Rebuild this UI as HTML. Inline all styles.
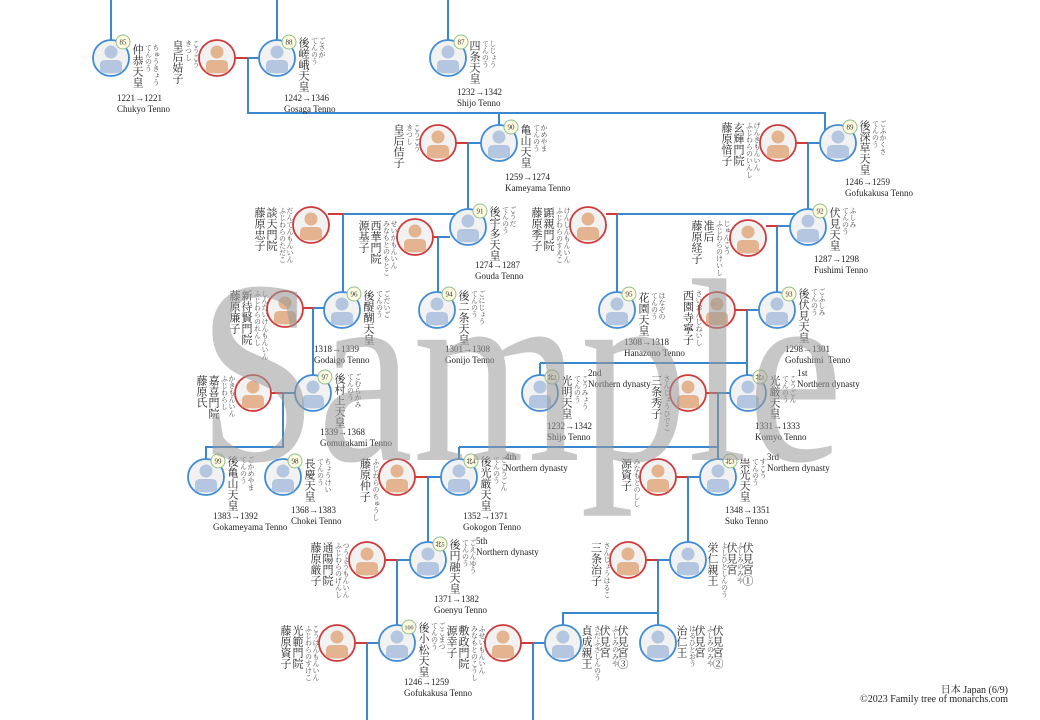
<!DOCTYPE html>
<html><head><meta charset="utf-8">
<style>
html,body{margin:0;padding:0;background:#fff}
#w{position:relative;width:1040px;height:720px;overflow:hidden;background:#fff;font-family:"Liberation Serif","Noto Serif CJK SC",serif;color:#222}
svg{position:absolute;left:0;top:0}
.m,.fe{position:absolute;display:flex;flex-direction:row;align-items:flex-start}
.fe{transform:translateX(-100%)}
.n{writing-mode:vertical-rl;font-size:11px;line-height:12px;letter-spacing:0;color:#222}
.f{writing-mode:vertical-rl;font-size:7px;line-height:7.5px;letter-spacing:0;color:#444;margin-left:1px}
.d{position:absolute;font-size:9px;line-height:11px;white-space:nowrap;color:#222}
.x{position:absolute;font-size:9px;line-height:11px;white-space:nowrap;color:#222}
.c{position:absolute;writing-mode:vertical-rl;white-space:nowrap}
.ft{position:absolute;right:32px;font-size:10px;white-space:nowrap;text-align:right}
</style></head><body><div id="w">
<svg width="1040" height="720" viewBox="0 0 1040 720">
<defs>
<g id="mm"><circle r="18" fill="#f2f2f2" stroke="#3f8bd6" stroke-width="1.8"/><circle cy="-6" r="6.5" fill="#b5c7e0"/><path d="M-11,14 V7 Q-11,2 -6,2 H6 Q11,2 11,7 V14 Q0,17 -11,14Z" fill="#b5c7e0"/></g>
<g id="ff"><circle r="18" fill="#f2f2f2" stroke="#d03a3a" stroke-width="1.8"/><circle cy="-6" r="6.5" fill="#e3b48f"/><path d="M-11,14 V7 Q-11,2 -6,2 H6 Q11,2 11,7 V14 Q0,17 -11,14Z" fill="#e3b48f"/></g>
</defs>
<g stroke="#3a87d0" stroke-width="2" fill="none">
<path d="M111 0V40M277 0V40M448 0V40"/>
<path d="M248 58H259M248 58V113H825V130M499 113V125"/>
<path d="M468 143H481M468 143V209"/>
<path d="M808 143H820M808 143V209"/>
<path d="M343 214H455M343 214V292"/>
<path d="M438 237H450M438 237V292"/>
<path d="M617 214H795M617 214V292"/>
<path d="M777 226H791M777 226V292"/>
<path d="M313 308H324M313 308V375"/>
<path d="M747 310H759M747 310V375M540 363H747M540 363V375"/>
<path d="M283 393H295M283 393V447H206V459"/>
<path d="M718 393H730M718 393V459M459 447H718M459 447V459"/>
<path d="M428 477H441M428 477V542"/>
<path d="M688 477H700M688 477V542"/>
<path d="M397 560H410M397 560V625"/>
<path d="M658 560H670M658 560V613H563V625M658 613V625"/>
<path d="M367 643H379M367 643V720"/>
<path d="M533 643H545M533 643V720"/>
</g>
<g stroke="#d03a3a" stroke-width="2" fill="none">
<path d="M235 58H248M456 143H468M796 143H808M328 214H343M433 237H438M606 214H617M766 226H777M303 308H313M735 310H747M271 393H283M706 393H718M415 477H428M676 477H688M385 560H397M646 560H658M354 643H367M521 643H533"/>
</g>
<use href="#mm" x="111" y="58"/><use href="#mm" x="277" y="58"/><use href="#mm" x="448" y="58"/>
<use href="#mm" x="499" y="143"/><use href="#mm" x="838" y="143"/>
<use href="#mm" x="468" y="227"/><use href="#mm" x="808" y="227"/>
<use href="#mm" x="342" y="310"/><use href="#mm" x="437" y="310"/><use href="#mm" x="617" y="310"/><use href="#mm" x="777" y="310"/>
<use href="#mm" x="313" y="393"/><use href="#mm" x="540" y="393"/><use href="#mm" x="748" y="393"/>
<use href="#mm" x="206" y="477"/><use href="#mm" x="283" y="477"/><use href="#mm" x="459" y="477"/><use href="#mm" x="718" y="477"/>
<use href="#mm" x="428" y="560"/><use href="#mm" x="688" y="560"/>
<use href="#mm" x="397" y="643"/><use href="#mm" x="563" y="643"/><use href="#mm" x="658" y="643"/>
<use href="#ff" x="217" y="58"/><use href="#ff" x="438" y="143"/><use href="#ff" x="778" y="143"/>
<use href="#ff" x="311" y="225"/><use href="#ff" x="415" y="237"/><use href="#ff" x="588" y="225"/><use href="#ff" x="748" y="238"/>
<use href="#ff" x="285" y="309"/><use href="#ff" x="717" y="310"/>
<use href="#ff" x="253" y="393"/><use href="#ff" x="688" y="393"/>
<use href="#ff" x="397" y="477"/><use href="#ff" x="658" y="477"/>
<use href="#ff" x="367" y="560"/><use href="#ff" x="628" y="560"/>
<use href="#ff" x="337" y="643"/><use href="#ff" x="503" y="643"/>
<g font-family="Liberation Serif" font-size="7" text-anchor="middle" fill="#333">
<g fill="#fffbe0" stroke="#8fc08f" stroke-width="1">
<circle cx="123" cy="42" r="7"/><circle cx="289" cy="42" r="7"/><circle cx="461" cy="42" r="7"/>
<circle cx="511" cy="127" r="7"/><circle cx="850" cy="127" r="7"/>
<circle cx="480" cy="211" r="7"/><circle cx="820" cy="211" r="7"/>
<circle cx="354" cy="294" r="7"/><circle cx="449" cy="294" r="7"/><circle cx="629" cy="294" r="7"/><circle cx="789" cy="294" r="7"/>
<circle cx="325" cy="377" r="7"/><circle cx="552" cy="377" r="7"/><circle cx="760" cy="377" r="7"/>
<circle cx="218" cy="461" r="7"/><circle cx="295" cy="461" r="7"/><circle cx="471" cy="461" r="7"/><circle cx="730" cy="461" r="7"/>
<circle cx="440" cy="544" r="7"/><circle cx="409" cy="627" r="7"/>
</g>
<text x="123" y="44.5">85</text><text x="289" y="44.5">88</text><text x="461" y="44.5">87</text>
<text x="511" y="129.5">90</text><text x="850" y="129.5">89</text>
<text x="480" y="213.5">91</text><text x="820" y="213.5">92</text>
<text x="354" y="296.5">96</text><text x="449" y="296.5">94</text><text x="629" y="296.5">95</text><text x="789" y="296.5">93</text>
<text x="325" y="379.5">97</text><text x="552" y="379.5" font-size="6">北2</text><text x="760" y="379.5" font-size="6">北1</text>
<text x="218" y="463.5">99</text><text x="295" y="463.5">98</text><text x="471" y="463.5" font-size="6">北4</text><text x="730" y="463.5" font-size="6">北3</text>
<text x="440" y="546.5" font-size="6">北5</text><text x="409" y="629.5" font-size="6">100</text>
</g>
</svg>

<div class="m" style="left:131px;top:44px"><div class="n">仲恭天皇</div><div class="f">ちゅうきょう<br>てんのう</div></div>
<div class="d" style="left:117px;top:93px">1221→1221<br>Chukyo Tenno</div>
<div class="m" style="left:297px;top:37px"><div class="n">後嵯峨天皇</div><div class="f">ごさが<br>てんのう</div></div>
<div class="d" style="left:284px;top:93px">1242→1346<br>Gosaga Tenno</div>
<div class="m" style="left:468px;top:40px"><div class="n">四条天皇</div><div class="f">しじょう<br>てんのう</div></div>
<div class="d" style="left:457px;top:87px">1232→1342<br>Shijo Tenno</div>
<div class="m" style="left:519px;top:124px"><div class="n">亀山天皇</div><div class="f">かめやま<br>てんのう</div></div>
<div class="d" style="left:505px;top:172px">1259→1274<br>Kameyama Tenno</div>
<div class="m" style="left:858px;top:120px"><div class="n">後深草天皇</div><div class="f">ごふかくさ<br>てんのう</div></div>
<div class="d" style="left:845px;top:177px">1246→1259<br>Gofukakusa Tenno</div>
<div class="m" style="left:488px;top:206px"><div class="n">後宇多天皇</div><div class="f">ごうだ<br>てんのう</div></div>
<div class="d" style="left:475px;top:260px">1274→1287<br>Gouda Tenno</div>
<div class="m" style="left:828px;top:207px"><div class="n">伏見天皇</div><div class="f">ふしみ<br>てんのう</div></div>
<div class="d" style="left:814px;top:254px">1287→1298<br>Fushimi Tenno</div>
<div class="m" style="left:362px;top:290px"><div class="n">後醍醐天皇</div><div class="f">ごだいご<br>てんのう</div></div>
<div class="d" style="left:314px;top:344px">1318→1339<br>Godaigo Tenno</div>
<div class="m" style="left:457px;top:290px"><div class="n">後二条天皇</div><div class="f">ごにじょう<br>てんのう</div></div>
<div class="d" style="left:445px;top:344px">1301→1308<br>Gonijo Tenno</div>
<div class="m" style="left:637px;top:292px"><div class="n">花園天皇</div><div class="f">はなぞの<br>てんのう</div></div>
<div class="d" style="left:624px;top:337px">1308→1318<br>Hanazono Tenno</div>
<div class="m" style="left:797px;top:288px"><div class="n">後伏見天皇</div><div class="f">ごふしみ<br>てんのう</div></div>
<div class="d" style="left:785px;top:344px">1298→1301<br>Gofushimi&nbsp; Tenno</div>
<div class="m" style="left:333px;top:373px"><div class="n">後村上天皇</div><div class="f">ごむらかみ<br>てんのう</div></div>
<div class="d" style="left:320px;top:427px">1339→1368<br>Gomurakami Tenno</div>
<div class="m" style="left:560px;top:375px"><div class="n">光明天皇</div><div class="f">こうみょう<br>てんのう</div></div>
<div class="d" style="left:547px;top:421px">1232→1342<br>Shijo Tenno</div>
<div class="x" style="left:588px;top:368px">2nd<br>Northern dynasty</div>
<div class="m" style="left:768px;top:375px"><div class="n">光厳天皇</div><div class="f">こうごん<br>てんのう</div></div>
<div class="d" style="left:755px;top:421px">1331→1333<br>Komyo Tenno</div>
<div class="x" style="left:797px;top:368px">1st<br>Northern dynasty</div>
<div class="m" style="left:226px;top:456px"><div class="n">後亀山天皇</div><div class="f">ごかめやま<br>てんのう</div></div>
<div class="d" style="left:213px;top:511px">1383→1392<br>Gokameyama Tenno</div>
<div class="m" style="left:303px;top:458px"><div class="n">長慶天皇</div><div class="f">ちょうけい<br>てんのう</div></div>
<div class="d" style="left:291px;top:505px">1368→1383<br>Chokei Tenno</div>
<div class="m" style="left:479px;top:456px"><div class="n">後光厳天皇</div><div class="f">ごこうごん<br>てんのう</div></div>
<div class="d" style="left:463px;top:511px">1352→1371<br>Gokogon Tenno</div>
<div class="x" style="left:505px;top:452px">4th<br>Northern dynasty</div>
<div class="m" style="left:738px;top:458px"><div class="n">崇光天皇</div><div class="f">すこう<br>てんのう</div></div>
<div class="d" style="left:725px;top:505px">1348→1351<br>Suko Tenno</div>
<div class="x" style="left:767px;top:452px">3rd<br>Northern dynasty</div>
<div class="m" style="left:448px;top:539px"><div class="n">後円融天皇</div><div class="f">ごえんゆう<br>てんのう</div></div>
<div class="d" style="left:434px;top:594px">1371→1382<br>Goenyu Tenno</div>
<div class="x" style="left:476px;top:536px">5th<br>Northern dynasty</div>
<div class="m" style="left:417px;top:622px"><div class="n">後小松天皇</div><div class="f">ごこまつ<br>てんのう</div></div>
<div class="d" style="left:404px;top:677px">1246→1259<br>Gofukakusa Tenno</div>

<div class="c n" style="left:706px;top:542px">栄仁親王</div>
<div class="c f" style="left:719px;top:542px">よしひとしんのう</div>
<div class="c n" style="left:725px;top:542px">伏見宮</div>
<div class="c f" style="left:735px;top:542px">ふしみのみや</div>
<div class="c n" style="left:741px;top:542px">伏見宮①</div>
<div class="c n" style="left:580px;top:625px">貞成親王</div>
<div class="c f" style="left:592px;top:625px">さだふさしんのう</div>
<div class="c n" style="left:598px;top:625px">伏見宮</div>
<div class="c f" style="left:610px;top:625px">ふしみのみや</div>
<div class="c n" style="left:616px;top:625px">伏見宮③</div>
<div class="c n" style="left:675px;top:625px">治仁王</div>
<div class="c f" style="left:687px;top:625px">はるひとおう</div>
<div class="c n" style="left:693px;top:625px">伏見宮</div>
<div class="c f" style="left:705px;top:625px">ふしみのみや</div>
<div class="c n" style="left:711px;top:625px">伏見宮②</div>

<div class="fe" style="left:199px;top:40px"><div class="n">皇后姞子</div><div class="f">こうごう<br>きつし</div></div>
<div class="fe" style="left:420px;top:124px"><div class="n">皇后佶子</div><div class="f">こうごう<br>きつし</div></div>
<div class="fe" style="left:760px;top:122px"><div class="n">玄輝門院<br>藤原愔子</div><div class="f">げんきもんいん<br>ふじわらのいんし</div></div>
<div class="fe" style="left:293px;top:207px"><div class="n">談天門院<br>藤原忠子</div><div class="f">だんてんもんいん<br>ふじわらのただこ</div></div>
<div class="fe" style="left:397px;top:220px"><div class="n">西華門院<br>源基子</div><div class="f">せいかもんいん<br>みなもとのもとこ</div></div>
<div class="fe" style="left:570px;top:207px"><div class="n">顕親門院<br>藤原季子</div><div class="f">けんしんもんいん<br>ふじわらのすえこ</div></div>
<div class="fe" style="left:730px;top:220px"><div class="n">准后<br>藤原経子</div><div class="f">じゅんこう<br>ふじわらのけいし</div></div>
<div class="fe" style="left:268px;top:290px"><div class="n">新待賢門院<br>藤原廉子</div><div class="f">しんたいけんもんいん<br>ふじわらのれんし</div></div>
<div class="fe" style="left:702px;top:290px"><div class="n">西園寺寧子</div><div class="f">さいおんじねいし</div></div>
<div class="fe" style="left:235px;top:375px"><div class="n">嘉喜門院<br>藤原氏</div><div class="f">かきもんいん<br>ふじわらし</div></div>
<div class="fe" style="left:670px;top:375px"><div class="n">三条秀子</div><div class="f">さんじょうひでこ</div></div>
<div class="fe" style="left:379px;top:458px"><div class="n">藤原仲子</div><div class="f">ふじわらのちゅうし</div></div>
<div class="fe" style="left:640px;top:458px"><div class="n">源資子</div><div class="f">みなもとのしし</div></div>
<div class="fe" style="left:349px;top:542px"><div class="n">通陽門院<br>藤原厳子</div><div class="f">つうようもんいん<br>ふじわらのげんし</div></div>
<div class="fe" style="left:610px;top:542px"><div class="n">三条治子</div><div class="f">さんじょうはるこ</div></div>
<div class="fe" style="left:319px;top:625px"><div class="n">光範門院<br>藤原資子</div><div class="f">こうはんもんいん<br>ふじわらのすけこ</div></div>
<div class="fe" style="left:485px;top:625px"><div class="n">敷政門院<br>源幸子</div><div class="f">ふせいもんいん<br>みなもとのこうし</div></div>

<div class="ft" style="top:681px">日本 Japan (6/9)</div>
<div class="ft" style="top:694px">©2023 Family tree of monarchs.com</div>

<svg width="1040" height="720" viewBox="0 0 1040 720" style="pointer-events:none">
<text x="198" y="460" font-family="Liberation Serif" font-size="262" textLength="645" lengthAdjust="spacingAndGlyphs" fill="#9a9a9a" opacity="0.55">Sample</text>
</svg>
</div></body></html>
